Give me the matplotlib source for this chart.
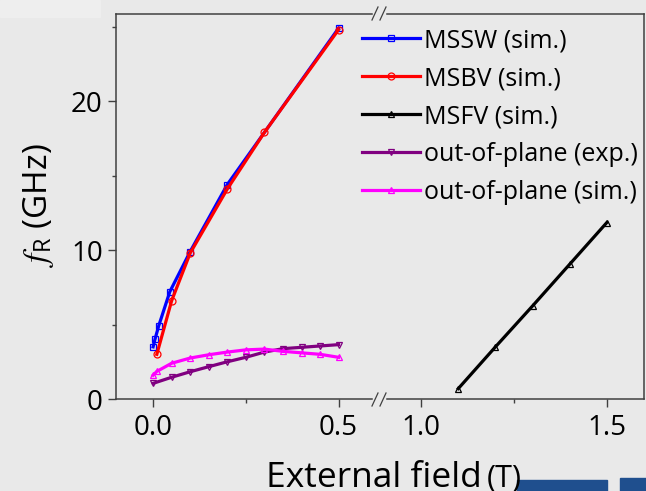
import matplotlib
matplotlib.use('Agg')
import matplotlib.pyplot as plt
from matplotlib.lines import Line2D
from matplotlib.patches import Rectangle

plt.rcParams['font.family'] = ['Open Sans', 'DejaVu Sans']
plt.rcParams['mathtext.fontset'] = 'stix'

# data
mssw_x = [0.0, 0.005, 0.015, 0.045, 0.1, 0.2, 0.5]
mssw_y = [3.5, 4.0, 4.9, 7.2, 9.9, 14.4, 24.9]

msbv_x = [0.01, 0.05, 0.1, 0.2, 0.3, 0.5]
msbv_y = [3.0, 6.6, 9.8, 14.1, 17.9, 24.8]

msfv_x = [1.1, 1.2, 1.3, 1.4, 1.5]
msfv_y = [0.7, 3.5, 6.25, 9.05, 11.85]

oop_exp_x = [0.0, 0.05, 0.1, 0.15, 0.2, 0.25, 0.3, 0.35, 0.4, 0.45, 0.5]
oop_exp_y = [1.05, 1.46, 1.83, 2.17, 2.5, 2.8, 3.15, 3.38, 3.47, 3.56, 3.65]

oop_sim_x = [0.0, 0.01, 0.05, 0.1, 0.15, 0.2, 0.25, 0.3, 0.35, 0.4, 0.45, 0.5]
oop_sim_y = [1.6, 1.85, 2.4, 2.75, 2.97, 3.15, 3.3, 3.35, 3.2, 3.1, 3.0, 2.8]

labels = ['MSSW (sim.)', 'MSBV (sim.)', 'MSFV (sim.)',
          'out-of-plane (exp.)', 'out-of-plane (sim.)']

bg = '#E9E9E9'
spine_c = '#404040'
W, H = 646, 491

fig = plt.figure(figsize=(6.46, 4.91), dpi=100, facecolor=bg)

# odd bits of the screenshot
fig.patches.append(Rectangle((0, 1 - 17 / H), 100 / W, 17 / H,
                             transform=fig.transFigure, color='#EEEEEE', zorder=0))
fig.patches.append(Rectangle((517 / W, 0), 90 / W, 11 / H,
                             transform=fig.transFigure, color='#1F4F8E', zorder=0))
fig.patches.append(Rectangle((620 / W, 0), 26 / W, 13 / H,
                             transform=fig.transFigure, color='#1F4F8E', zorder=0))

bot = 1 - 399 / H
hgt = (399 - 14) / H
ax1 = fig.add_axes([116 / W, bot, (372 - 116) / W, hgt])
ax2 = fig.add_axes([387 / W, bot, (644 - 387) / W, hgt], sharey=ax1)
for ax in (ax1, ax2):
    ax.set_facecolor('none')

lw = 2.3
ms = 5
kw = dict(lw=lw, ms=ms, mfc='none', mew=0.9)
h1, = ax1.plot(mssw_x, mssw_y, color='#0000FF', marker='s', **kw)
h2, = ax1.plot(msbv_x, msbv_y, color='#FF0000', marker='o', **kw)
h4, = ax1.plot(oop_exp_x, oop_exp_y, color='#800080', marker='v', **kw)
h5, = ax1.plot(oop_sim_x, oop_sim_y, color='#FF00FF', marker='^', **kw)
h3, = ax2.plot(msfv_x, msfv_y, color='black', marker='^', **kw)

ax1.set_xlim(-0.1, 0.59)
ax2.set_xlim(0.908, 1.6)
ax1.set_ylim(0, 25.85)

ax1.set_xticks([0.0, 0.5])
ax1.set_xticks([0.25], minor=True)
ax2.set_xticks([1.0, 1.5])
ax2.set_xticks([1.25], minor=True)
ax1.set_xticklabels(['0.0', '0.5'])
ax2.set_xticklabels(['1.0', '1.5'])
ax1.set_yticks([0, 10, 20])
ax1.set_yticks([5, 15, 25], minor=True)

fs_tick = 20
for ax in (ax1, ax2):
    ax.tick_params(which='major', length=5.5, width=1.0, color=spine_c,
                   labelsize=fs_tick, pad=4)
    ax.tick_params(which='minor', length=3, width=1.0, color=spine_c)
    ax.tick_params(axis='x', which='major', pad=5)
    for s in ax.spines.values():
        s.set_color(spine_c)
        s.set_linewidth(1.1)

ax1.spines['right'].set_visible(False)
ax2.spines['left'].set_visible(False)
ax2.tick_params(axis='y', which='both', left=False, labelleft=False)


# break marks
def slash_pair(xc, yc):
    for dx in (-4, 4):
        x = xc + dx
        fig.add_artist(Line2D([(x - 3) / W, (x + 3) / W],
                              [1 - (yc + 6.5) / H, 1 - (yc - 6.5) / H],
                              transform=fig.transFigure, color=spine_c, lw=0.9))


slash_pair(379, 13.5)
slash_pair(379, 399.5)

fig.legend([h1, h2, h3, h4, h5], labels, loc='upper left',
           bbox_to_anchor=(362 / W, 1 - 28 / H), frameon=False,
           fontsize=18, handlelength=2.3, handletextpad=0.2,
           labelspacing=0.52, borderpad=0, borderaxespad=0)

fig.text(38 / W, 1 - 205 / H, r'$f_{\mathregular{R}}$ (GHz)', rotation=90,
         ha='center', va='center', fontsize=24)
fig.text(266 / W, 1 - 487 / H, 'External field', ha='left', va='baseline',
         fontsize=25.5)
fig.text(487 / W, 1 - 487 / H, '(T)', ha='left', va='baseline', fontsize=22)

fig.savefig('out.png', dpi=100, facecolor=bg)
